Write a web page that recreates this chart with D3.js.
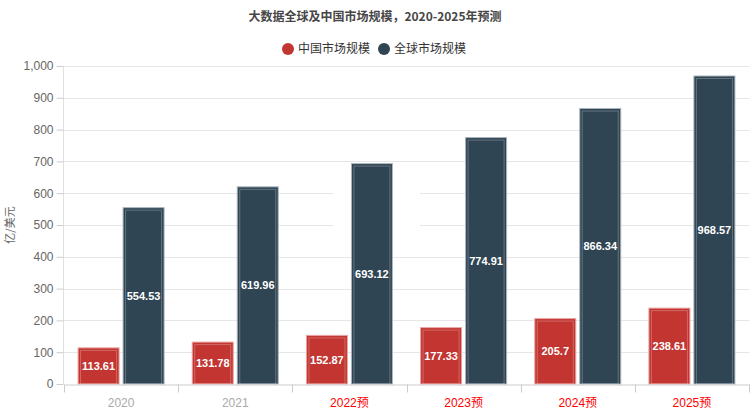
<!DOCTYPE html>
<html>
<head>
<meta charset="utf-8">
<script src="https://cdn.jsdelivr.net/npm/d3@7"></script>
<style>
  body { margin: 0; background: #fff; }
  svg { font-family: "Microsoft YaHei", "Noto Sans CJK SC", sans-serif; }
</style>
</head>
<body>
<svg id="chart" width="750" height="414"></svg>
<script>
var years = ["2020", "2021", "2022预", "2023预", "2024预", "2025预"];
var forecast = [false, false, true, true, true, true];
var chinaValues = [113.61, 131.78, 152.87, 177.33, 205.7, 238.61];
var globalValues = [554.53, 619.96, 693.12, 774.91, 866.34, 968.57];
var seriesNames = ["中国市场规模", "全球市场规模"];
var seriesColors = ["#c23531", "#2f4554"];
var yTicks = [0, 100, 200, 300, 400, 500, 600, 700, 800, 900, 1000];

var svg = d3.select("#chart");
var margin = { left: 64, right: 1, top: 66, bottom: 30 };
var W = 750, H = 414;

var x = d3.scaleBand().domain(years).range([margin.left, W - margin.right]);
var y = d3.scaleLinear().domain([0, 1000]).range([384, 66]);

// title
svg.append("text")
    .attr("x", 375).attr("y", 21)
    .attr("text-anchor", "middle")
    .style("font-size", "12px").style("font-weight", "bold")
    .style("fill", "#464646")
    .text("大数据全球及中国市场规模，2020-2025年预测");

// legend
var legend = svg.append("g").attr("class", "legend");
var legendX = [288, 384];
seriesNames.forEach(function (name, i) {
  var g = legend.append("g").attr("transform", "translate(" + legendX[i] + ",49)");
  g.append("circle").attr("r", 6).attr("fill", seriesColors[i]);
  g.append("text").attr("x", 10).attr("dy", "0.36em")
      .style("font-size", "12px").style("fill", "#333").text(name);
});

// grid
svg.append("g").selectAll("line").data(yTicks.slice(1)).join("line")
    .attr("x1", margin.left).attr("x2", W - margin.right)
    .attr("y1", function (d) { return Math.round(y(d)) + 0.5; })
    .attr("y2", function (d) { return Math.round(y(d)) + 0.5; })
    .attr("stroke", "#e6e6e6");

// watermark patch
svg.append("rect").attr("x", 333).attr("y", 180).attr("width", 87).attr("height", 56)
    .attr("fill", "#fff");

// y axis
var yAxis = svg.append("g")
    .attr("transform", "translate(" + (margin.left - 0.5) + ",0)")
    .call(d3.axisLeft(y).tickValues(yTicks).tickSize(7).tickPadding(3).tickFormat(d3.format(",")));
yAxis.select(".domain").attr("stroke", "#e0e0e0").attr("d", "M0," + y(1000) + "V" + y(0));
yAxis.selectAll(".tick line").attr("stroke", "#ccc");
yAxis.selectAll(".tick text").style("font-size", "12px").style("fill", "#666")
    .style("font-family", "Arial, 'Liberation Sans', sans-serif");

svg.append("text")
    .attr("transform", "translate(14,225) rotate(-90)")
    .attr("text-anchor", "middle")
    .style("font-size", "11px").style("fill", "#666")
    .text("亿/美元");

// bars
var barW = 41, gap = 4;
var series = [chinaValues, globalValues];
series.forEach(function (vals, si) {
  var g = svg.append("g").attr("class", "series-" + si);
  var bx = function (d, i) {
    var c = x(years[i]) + x.bandwidth() / 2;
    return si === 0 ? c - gap / 2 - barW : c + gap / 2;
  };
  g.selectAll("rect.bar").data(vals).join("rect")
      .attr("class", "bar")
      .attr("x", bx)
      .attr("y", function (d) { return y(d); })
      .attr("width", barW)
      .attr("height", function (d) { return y(0) - y(d); })
      .attr("fill", seriesColors[si])
      .attr("stroke", si === 0 ? "#e9a6a4" : "#aab5bd")
      .attr("stroke-width", 1);
  g.selectAll("rect.inner").data(vals).join("rect")
      .attr("class", "inner")
      .attr("x", function (d, i) { return bx(d, i) + 2.5; })
      .attr("y", function (d) { return y(d) + 2.5; })
      .attr("width", barW - 5)
      .attr("height", function (d) { return Math.max(0, y(0) - y(d) - 2.5); })
      .attr("fill", "none")
      .attr("stroke", "rgba(255,255,255,0.25)");
  g.selectAll("text").data(vals).join("text")
      .attr("x", function (d, i) { return bx(d, i) + barW / 2; })
      .attr("y", function (d) { return (y(d) + y(0)) / 2; })
      .attr("dy", "0.35em")
      .attr("text-anchor", "middle")
      .style("font-size", "11px").style("font-weight", "bold").style("fill", "#fff")
      .style("font-family", "Arial, 'Liberation Sans', sans-serif")
      .text(function (d) { return d; });
});

// x axis
var xAxis = svg.append("g")
    .attr("transform", "translate(0," + (y(0) + 0.5) + ")")
    .call(d3.axisBottom(x).tickSize(0).tickPadding(14));
xAxis.select(".domain").attr("stroke", "#ccc");
xAxis.selectAll(".tick text")
    .style("font-size", "12px")
    .style("font-family", "Arial, 'Liberation Sans', 'Noto Sans CJK SC', sans-serif")
    .style("fill", function (d, i) { return forecast[i] ? "#f00" : "#aaa"; });
xAxis.append("g").selectAll("line").data(years.concat(["end"])).join("line")
    .attr("x1", function (d, i) { return Math.round(margin.left + i * x.bandwidth()) + 0.5; })
    .attr("x2", function (d, i) { return Math.round(margin.left + i * x.bandwidth()) + 0.5; })
    .attr("y1", 0).attr("y2", 8)
    .attr("stroke", "#ccc");
</script>
</body>
</html>
